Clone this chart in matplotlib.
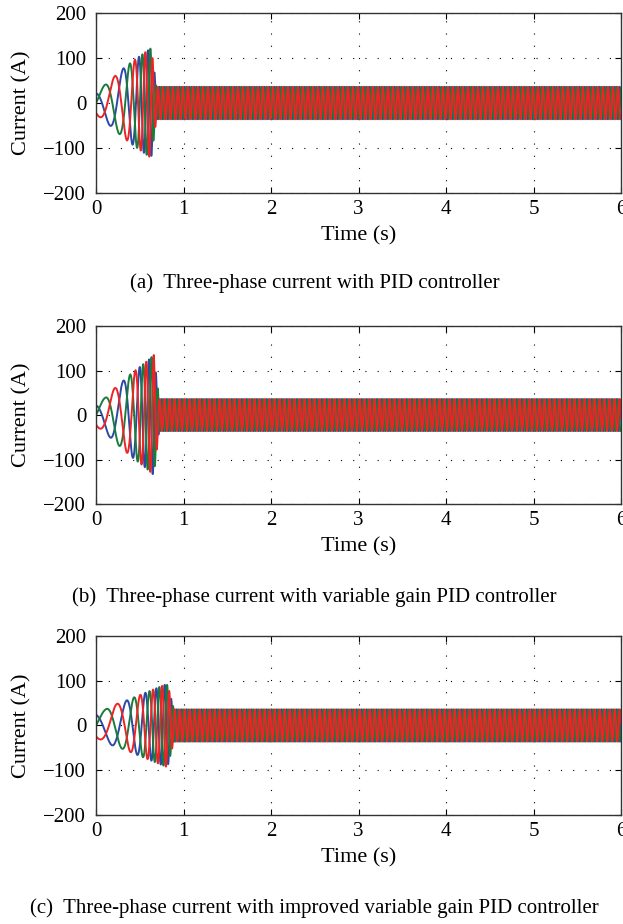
"""
Three-phase stator current during motor start-up for three controllers:
PID, variable gain PID and improved variable gain PID.
"""

import numpy as np
import matplotlib.pyplot as plt

plt.rcParams["font.family"] = ["Liberation Serif", "DejaVu Serif"]

T_END = 6.0
DT = 0.0005

# peak current envelope, time (s) -> A
env_t_a = [0.0, 0.1, 0.2, 0.3, 0.4, 0.5, 0.6, 0.63, 0.69, 6.0]
env_v_a = [25, 40, 57, 75, 90, 104, 118, 122, 36, 36]
env_t_b = [0.0, 0.1, 0.2, 0.3, 0.4, 0.5, 0.6, 0.66, 0.72, 6.0]
env_v_b = [25, 38, 58, 75, 93, 108, 124, 135, 36, 36]
env_t_c = [0.0, 0.1, 0.2, 0.3, 0.4, 0.5, 0.6, 0.7, 0.8, 0.82, 0.89, 6.0]
env_v_c = [28, 35, 46, 52, 60, 68, 76, 84, 92, 90, 36, 36]

# apparent frequency of the waveform, time (s) -> Hz
freq_t_a = [0.0, 0.3, 0.45, 0.55, 0.63, 0.7, 6.0]
freq_v_a = [2.3, 3.5, 6.5, 10.0, 13.0, 17.5, 17.5]
freq_t_b = [0.0, 0.3, 0.45, 0.57, 0.66, 0.73, 6.0]
freq_v_b = [2.3, 3.5, 6.0, 10.0, 13.0, 17.5, 17.5]
freq_t_c = [0.0, 0.3, 0.5, 0.65, 0.8, 0.9, 6.0]
freq_v_c = [2.0, 3.0, 5.0, 8.5, 12.0, 17.5, 17.5]

captions = [
    "(a)  Three-phase current with PID controller",
    "(b)  Three-phase current with variable gain PID controller",
    "(c)  Three-phase current with improved variable gain PID controller",
]

BLUE, GREEN, RED = "#2b49a6", "#1b7b3b", "#ee2424"


def three_phase(env_t, env_v, freq_t, freq_v):
    t = np.arange(0.0, T_END + DT, DT)
    amp = np.interp(t, env_t, env_v)
    freq = np.interp(t, freq_t, freq_v)
    phi = np.concatenate([[0.0], np.cumsum(2 * np.pi * freq[:-1] * DT)])
    green = amp * np.sin(phi)
    red = amp * np.sin(phi - 2 * np.pi / 3)
    blue = amp * np.sin(phi + 2 * np.pi / 3)
    return t, blue, green, red


fig = plt.figure(figsize=(6.23, 9.24), dpi=100)
positions = [
    [0.1541, 0.7911, 0.8427, 0.1948],
    [0.1541, 0.4545, 0.8427, 0.1926],
    [0.1541, 0.1180, 0.8427, 0.1937],
]
caption_y = [0.6937, 0.3539, 0.0173]
panels = [
    (env_t_a, env_v_a, freq_t_a, freq_v_a),
    (env_t_b, env_v_b, freq_t_b, freq_v_b),
    (env_t_c, env_v_c, freq_t_c, freq_v_c),
]

for pos, cap_y, cap, data in zip(positions, caption_y, captions, panels):
    ax = fig.add_axes(pos)
    t, ib, ig, ir = three_phase(*data)
    ax.plot(t, ib, color=BLUE, lw=1.4)
    ax.plot(t, ig, color=GREEN, lw=1.4)
    ax.plot(t, ir, color=RED, lw=1.4)

    ax.set_xlim(0, 6)
    ax.set_ylim(-200, 200)
    ax.set_xticks(range(0, 7))
    ax.set_yticks([-200, -100, 0, 100, 200])
    ax.set_yticklabels(["\u2212200", "\u2212100", "0", "100", "200"])
    ax.tick_params(direction="in", top=True, right=True, length=4,
                   labelsize=15, width=0.8)
    ax.tick_params(axis="x", pad=5)
    ax.tick_params(axis="y", pad=7)
    ax.grid(True, color="black", linestyle=(0, (1, 10)), linewidth=0.8)
    for sp in ax.spines.values():
        sp.set_color("#333333")
        sp.set_linewidth(1.0)

    ax.set_xlabel("Time (s)", fontsize=16)
    ax.xaxis.set_label_coords(0.5, -0.24)
    ax.xaxis.label.set_va("center")
    ax.set_ylabel("Current (A)", fontsize=16)
    ax.yaxis.set_label_coords(-0.141, 0.5)
    ax.yaxis.label.set_va("center")

    fig.text(0.505, cap_y, cap, ha="center", va="center", fontsize=15)

fig.savefig("out.png", dpi=100)
